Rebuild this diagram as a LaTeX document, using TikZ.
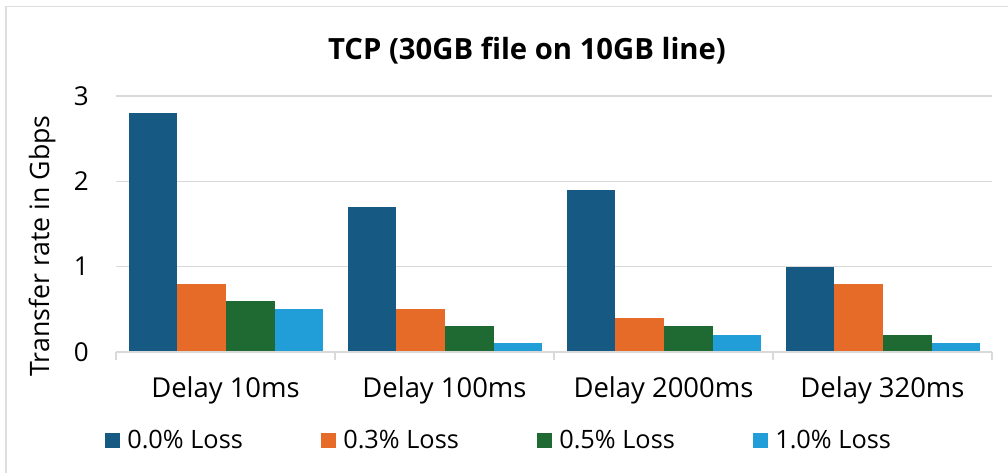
\documentclass[tikz,border=0pt]{standalone}
\usepackage{fontspec}
\setmainfont{Open Sans}
\definecolor{lossA}{RGB}{22,90,131}
\definecolor{lossB}{RGB}{230,106,40}
\definecolor{lossC}{RGB}{30,106,50}
\definecolor{lossD}{RGB}{33,158,216}
\definecolor{gridgray}{RGB}{217,217,217}
\definecolor{framegray}{RGB}{222,222,222}
\begin{document}
\begin{tikzpicture}[x=0.025cm,y=-0.025cm,
	gridline/.style={draw=gridgray,line width=1.1pt},
	lbl/.style={inner sep=0pt,font=\fontsize{19.5}{23}\selectfont},
	legtxt/.style={inner sep=0pt,anchor=base west,font=\fontsize{18}{22}\selectfont}]
	\def\u{85.33} % 1 Gbps in px
	\def\bw{48.7}
	\useasboundingbox (0,0) rectangle (1008,473);
	\draw[framegray,line width=1.1pt] (6,473) -- (6,6.7) -- (1008,6.7);
	\node[inner sep=0pt,anchor=base,font=\bfseries\fontsize{20.8}{24}\selectfont] (title) at (527,59.5) {TCP (30GB file on 10GB line)};
	% grid and y axis
	\foreach \v in {1,2,3}
		\draw[gridline] (116,352-\v*\u) -- (992,352-\v*\u);
	\foreach \v in {0,...,3}
		\node[inner sep=0pt,anchor=east,font=\fontsize{18.5}{22}\selectfont] (tick\v) at (89,352-\v*\u) {\v};
	\node[inner sep=0pt,anchor=base,rotate=90,font=\fontsize{19}{22}\selectfont] (ylab) at (49,246) {Transfer rate in Gbps};
	% bars
	\foreach \cat/\a/\b/\c/\d [count=\k from 0] in {Delay 10ms/2.8/0.8/0.6/0.5,Delay 100ms/1.7/0.5/0.3/0.1,Delay 2000ms/1.9/0.4/0.3/0.2,Delay 320ms/1.0/0.8/0.2/0.1}{
		\foreach \v/\col [count=\j from 0] in {\a/lossA,\b/lossB,\c/lossC,\d/lossD}
			\fill[\col] ({116+219*\k+12.6+\bw*\j},352) rectangle ++(\bw,{-\v*\u});
		\node[lbl,anchor=base] (cat\k) at ({116+219*(\k+0.5)},397) {\cat};
	}
	\draw[gridgray,line width=1.1pt] (116,352) -- (992,352);
	\foreach \k in {0,...,4}
		\draw[gridgray,line width=1.1pt] (116+219*\k,352) -- ++(0,8);
	% legend
	\foreach \name/\col [count=\j from 0] in {0.0\% Loss/lossA,0.3\% Loss/lossB,0.5\% Loss/lossC,1.0\% Loss/lossD}{
		\fill[\col] ({105+216*\j},433) rectangle ++(15,15);
		\node[legtxt] (leg\j) at ({127+216*\j},448) {\name};
	}
\end{tikzpicture}
\end{document}
